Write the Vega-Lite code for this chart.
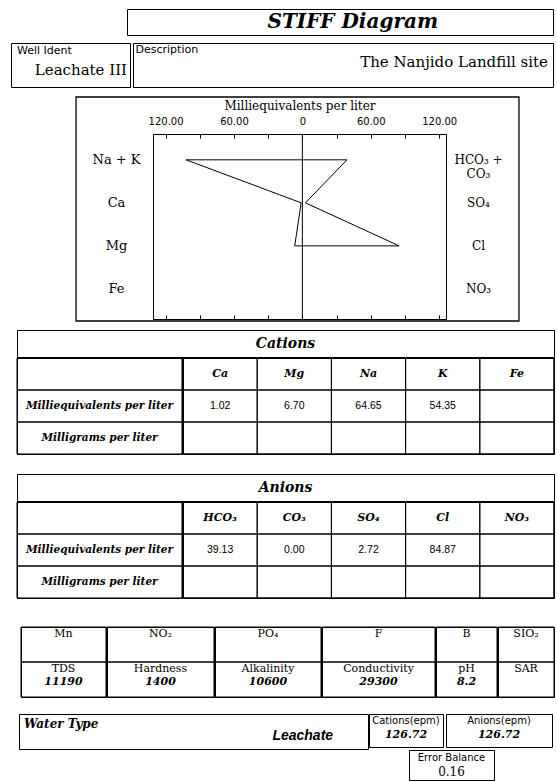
{
  "$schema": "https://vega.github.io/schema/vega-lite/v6.json",
  "background": "white",
  "padding": {"left": 10, "top": 8, "right": 0, "bottom": 0},
  "config": {
    "view": {"stroke": "black", "strokeWidth": 1},
    "text": {"color": "black"},
    "concat": {"spacing": 0},
    "axis": {"labelColor": "black", "tickColor": "black", "domainColor": "black", "titleColor": "black", "grid": false}
  },
  "datasets": {
    "sample": [{"wellIdent": "Leachate III", "description": "The Nanjido Landfill site", "waterType": "Leachate", "cationsEpm": 126.72, "anionsEpm": 126.72, "errorBalance": 0.16}],
    "stiff": [
      {"order": 1, "ion": "Na + K", "meq": -102, "row": 1},
      {"order": 2, "ion": "Ca", "meq": -1.02, "row": 2},
      {"order": 3, "ion": "Mg", "meq": -6.7, "row": 3},
      {"order": 4, "ion": "Cl", "meq": 84.87, "row": 3},
      {"order": 5, "ion": "SO₄", "meq": 2.72, "row": 2},
      {"order": 6, "ion": "HCO₃ + CO₃", "meq": 39.13, "row": 1},
      {"order": 7, "ion": "Na + K", "meq": -102, "row": 1}
    ],
    "cations": [
      {"ion": "Ca", "meq": 1.02},
      {"ion": "Mg", "meq": 6.70},
      {"ion": "Na", "meq": 64.65},
      {"ion": "K", "meq": 54.35},
      {"ion": "Fe", "meq": null}
    ],
    "anions": [
      {"ion": "HCO₃", "meq": 39.13},
      {"ion": "CO₃", "meq": 0.00},
      {"ion": "SO₄", "meq": 2.72},
      {"ion": "Cl", "meq": 84.87},
      {"ion": "NO₃", "meq": null}
    ],
    "tableRows": [
      {"row": "ion", "label": ""},
      {"row": "meq", "label": "Milliequivalents per liter"},
      {"row": "mg", "label": "Milligrams per liter"}
    ],
    "params": [
      {"col": "c1", "row": "top", "name": "Mn"},
      {"col": "c1", "row": "bottom", "name": "TDS", "value": 11190},
      {"col": "c2", "row": "top", "name": "NO₂"},
      {"col": "c2", "row": "bottom", "name": "Hardness", "value": 1400},
      {"col": "c3", "row": "top", "name": "PO₄"},
      {"col": "c3", "row": "bottom", "name": "Alkalinity", "value": 10600},
      {"col": "c4", "row": "top", "name": "F"},
      {"col": "c4", "row": "bottom", "name": "Conductivity", "value": 29300},
      {"col": "c5", "row": "top", "name": "B"},
      {"col": "c5", "row": "bottom", "name": "pH", "value": 8.2},
      {"col": "c6", "row": "top", "name": "SIO₂"},
      {"col": "c6", "row": "bottom", "name": "SAR"}
    ]
  },
  "spacing": 0,
  "vconcat": [
    {
      "spacing": 0,
      "hconcat": [
        {"width": 115, "height": 1, "data": {"values": []}, "mark": "point", "view": {"stroke": null}},
        {
          "width": 426, "height": 26,
          "data": {"name": "sample"},
          "mark": {"type": "text", "font": "DejaVu Serif", "fontSize": 20, "fontStyle": "italic", "fontWeight": "bold", "baseline": "middle"},
          "encoding": {
            "x": {"datum": 0.53, "type": "quantitative", "scale": {"domain": [0, 1]}, "axis": null},
            "y": {"datum": 0.5, "type": "quantitative", "scale": {"domain": [0, 1]}, "axis": null},
            "text": {"value": "STIFF Diagram"}
          }
        }
      ]
    },
    {"width": 1, "height": 6, "data": {"values": []}, "mark": "point", "view": {"stroke": null}},
    {
      "spacing": 1,
      "hconcat": [
        {
          "width": 119, "height": 44,
          "data": {"name": "sample"},
          "layer": [
            {
              "mark": {"type": "text", "font": "DejaVu Sans", "fontSize": 11, "align": "left", "baseline": "top"},
              "encoding": {
                "x": {"datum": 0.05, "type": "quantitative", "scale": {"domain": [0, 1]}, "axis": null},
                "y": {"datum": 0.05, "type": "quantitative", "scale": {"domain": [0, 1], "reverse": true}, "axis": null},
                "text": {"value": "Well Ident"}
              }
            },
            {
              "mark": {"type": "text", "font": "DejaVu Serif", "fontSize": 15, "align": "right", "baseline": "middle"},
              "encoding": {
                "x": {"datum": 0.975, "type": "quantitative", "scale": {"domain": [0, 1]}, "axis": null},
                "y": {"datum": 0.61, "type": "quantitative", "scale": {"domain": [0, 1], "reverse": true}, "axis": null},
                "text": {"field": "wellIdent", "type": "nominal"}
              }
            }
          ]
        },
        {
          "width": 420, "height": 44,
          "data": {"name": "sample"},
          "layer": [
            {
              "mark": {"type": "text", "font": "DejaVu Sans", "fontSize": 11, "align": "left", "baseline": "top"},
              "encoding": {
                "x": {"datum": 0.006, "type": "quantitative", "scale": {"domain": [0, 1]}, "axis": null},
                "y": {"datum": 0.02, "type": "quantitative", "scale": {"domain": [0, 1], "reverse": true}, "axis": null},
                "text": {"value": "Description"}
              }
            },
            {
              "mark": {"type": "text", "font": "DejaVu Serif", "fontSize": 15, "align": "right", "baseline": "middle"},
              "encoding": {
                "x": {"datum": 0.988, "type": "quantitative", "scale": {"domain": [0, 1]}, "axis": null},
                "y": {"datum": 0.43, "type": "quantitative", "scale": {"domain": [0, 1], "reverse": true}, "axis": null},
                "text": {"field": "description", "type": "nominal"}
              }
            }
          ]
        }
      ]
    },
    {"width": 1, "height": 7, "data": {"values": []}, "mark": "point", "view": {"stroke": null}},
    {
      "spacing": 0,
      "hconcat": [
        {"width": 63, "height": 1, "data": {"values": []}, "mark": "point", "view": {"stroke": null}},
        {
          "width": 293, "height": 185,
          "resolve": {"axis": {"x": "independent", "y": "independent"}},
          "layer": [
            {
              "data": {"name": "stiff"},
              "mark": {"type": "line", "color": "black", "strokeWidth": 1},
              "encoding": {
                "x": {
                  "field": "meq", "type": "quantitative",
                  "scale": {"domain": [-131, 126], "nice": false, "zero": false},
                  "axis": {
                    "orient": "top", "values": [-120, -90, -60, -30, 0, 30, 60, 90, 120],
                    "labelExpr": "datum.value == 0 ? '0' : (abs(datum.value) % 60 == 0 ? format(abs(datum.value), '.2f') : '')",
                    "tickSize": -4, "domain": false, "labelFont": "DejaVu Sans", "labelFontSize": 10,
                    "labelPadding": 12, "labelOverlap": false, "labelFlush": false,
                    "title": "Milliequivalents per liter", "titleFont": "DejaVu Serif", "titleFontSize": 12,
                    "titleFontWeight": "normal", "titlePadding": 4
                  }
                },
                "y": {
                  "field": "row", "type": "quantitative",
                  "scale": {"domain": [0.4, 4.7], "nice": false, "zero": false, "reverse": true},
                  "axis": {
                    "orient": "left", "values": [1, 2, 3, 4],
                    "labelExpr": "['Na + K', 'Ca', 'Mg', 'Fe'][datum.value - 1]",
                    "ticks": false, "domain": false, "labelAlign": "center", "labelBaseline": "middle",
                    "labelPadding": 37, "labelFont": "DejaVu Serif", "labelFontSize": 13,
                    "labelOverlap": false, "labelFlush": false, "title": null
                  }
                },
                "order": {"field": "order", "type": "quantitative"}
              }
            },
            {
              "data": {"values": [{"line": "zero"}]},
              "mark": {"type": "rule", "color": "black", "strokeWidth": 1},
              "encoding": {
                "x": {
                  "datum": 0, "type": "quantitative",
                  "scale": {"domain": [-131, 126], "nice": false, "zero": false},
                  "axis": {"orient": "bottom", "values": [-120, -90, -60, -30, 0, 30, 60, 90, 120], "labels": false, "tickSize": -4, "domain": false, "title": null}
                },
                "y": {
                  "datum": 0.4, "type": "quantitative",
                  "scale": {"domain": [0.4, 4.7], "nice": false, "zero": false, "reverse": true},
                  "axis": {
                    "orient": "right", "values": [1, 2, 3, 4],
                    "labelExpr": "datum.value == 1 ? ['HCO₃ +', 'CO₃'] : ['', 'SO₄', 'Cl', 'NO₃'][datum.value - 1]",
                    "ticks": false, "domain": false, "labelAlign": "center", "labelBaseline": "middle",
                    "labelPadding": 32, "labelFont": "DejaVu Serif", "labelFontSize": 12,
                    "labelOverlap": false, "labelFlush": false, "title": null
                  }
                },
                "y2": {"datum": 4.7}
              }
            },
            {
              "data": {"values": [{"frame": "outer"}]},
              "mark": {"type": "rect", "filled": false, "stroke": "black", "strokeWidth": 1.3, "clip": false},
              "encoding": {
                "x": {"datum": -198.5, "type": "quantitative", "scale": {"domain": [-131, 126], "nice": false, "zero": false}, "axis": null},
                "x2": {"datum": 190},
                "y": {"datum": -0.46, "type": "quantitative", "scale": {"domain": [0.4, 4.7], "nice": false, "zero": false, "reverse": true}, "axis": null},
                "y2": {"datum": 4.747}
              }
            }
          ]
        }
      ]
    },
    {"width": 1, "height": 6, "data": {"values": []}, "mark": "point", "view": {"stroke": null}},
    {
      "spacing": 0,
      "hconcat": [
        {"width": 5, "height": 1, "data": {"values": []}, "mark": "point", "view": {"stroke": null}},
        {
          "spacing": -3,
          "vconcat": [
            {
              "width": 537, "height": 27,
              "data": {"values": [{"section": "Cations"}]},
              "mark": {"type": "text", "font": "DejaVu Serif", "fontSize": 14, "fontStyle": "italic", "fontWeight": "bold", "baseline": "middle"},
              "encoding": {
                "y": {"datum": 0.5, "type": "quantitative", "scale": {"domain": [0, 1]}, "axis": null},
                "text": {"field": "section", "type": "nominal"}
              }
            },
            {
              "spacing": -3,
              "hconcat": [
                {
                  "width": 165, "height": 96,
                  "data": {"name": "tableRows"},
                  "encoding": {"y": {"field": "row", "type": "nominal", "scale": {"domain": ["ion", "meq", "mg"], "paddingInner": 0, "paddingOuter": 0}, "axis": null}},
                  "layer": [
                    {"mark": {"type": "rect", "filled": false, "stroke": "black", "strokeWidth": 1}},
                    {"mark": {"type": "text", "font": "DejaVu Serif", "fontSize": 10.5, "fontStyle": "italic", "fontWeight": "bold"}, "encoding": {"text": {"field": "label", "type": "nominal"}}}
                  ]
                },
                {
                  "width": 371, "height": 96,
                  "layer": [
                    {
                      "data": {"name": "cations"},
                      "mark": {"type": "rect", "filled": false, "stroke": "black", "strokeWidth": 1},
                      "encoding": {"x": {"field": "ion", "type": "nominal", "scale": {"domain": ["Ca", "Mg", "Na", "K", "Fe"], "paddingInner": 0, "paddingOuter": 0}, "axis": null}}
                    },
                    {
                      "data": {"name": "tableRows"},
                      "mark": {"type": "rect", "filled": false, "stroke": "black", "strokeWidth": 1},
                      "encoding": {"y": {"field": "row", "type": "nominal", "scale": {"domain": ["ion", "meq", "mg"], "paddingInner": 0, "paddingOuter": 0}, "axis": null}}
                    },
                    {
                      "data": {"name": "cations"},
                      "mark": {"type": "text", "font": "DejaVu Serif", "fontSize": 11, "fontStyle": "italic", "fontWeight": "bold"},
                      "encoding": {
                        "x": {"field": "ion", "type": "nominal", "axis": null},
                        "y": {"datum": "ion", "type": "nominal", "bandPosition": 0.5, "axis": null},
                        "text": {"field": "ion", "type": "nominal"}
                      }
                    },
                    {
                      "data": {"name": "cations"},
                      "transform": [{"filter": "isValid(datum.meq)"}],
                      "mark": {"type": "text", "font": "Liberation Sans", "fontSize": 10.5},
                      "encoding": {
                        "x": {"field": "ion", "type": "nominal", "axis": null},
                        "y": {"datum": "meq", "type": "nominal", "bandPosition": 0.5, "axis": null},
                        "text": {"field": "meq", "type": "quantitative", "format": ".2f"}
                      }
                    }
                  ]
                }
              ]
            }
          ]
        }
      ]
    },
    {"width": 1, "height": 18, "data": {"values": []}, "mark": "point", "view": {"stroke": null}},
    {
      "spacing": 0,
      "hconcat": [
        {"width": 5, "height": 1, "data": {"values": []}, "mark": "point", "view": {"stroke": null}},
        {
          "spacing": -3,
          "vconcat": [
            {
              "width": 537, "height": 27,
              "data": {"values": [{"section": "Anions"}]},
              "mark": {"type": "text", "font": "DejaVu Serif", "fontSize": 14, "fontStyle": "italic", "fontWeight": "bold", "baseline": "middle"},
              "encoding": {
                "y": {"datum": 0.5, "type": "quantitative", "scale": {"domain": [0, 1]}, "axis": null},
                "text": {"field": "section", "type": "nominal"}
              }
            },
            {
              "spacing": -3,
              "hconcat": [
                {
                  "width": 165, "height": 96,
                  "data": {"name": "tableRows"},
                  "encoding": {"y": {"field": "row", "type": "nominal", "scale": {"domain": ["ion", "meq", "mg"], "paddingInner": 0, "paddingOuter": 0}, "axis": null}},
                  "layer": [
                    {"mark": {"type": "rect", "filled": false, "stroke": "black", "strokeWidth": 1}},
                    {"mark": {"type": "text", "font": "DejaVu Serif", "fontSize": 10.5, "fontStyle": "italic", "fontWeight": "bold"}, "encoding": {"text": {"field": "label", "type": "nominal"}}}
                  ]
                },
                {
                  "width": 371, "height": 96,
                  "layer": [
                    {
                      "data": {"name": "anions"},
                      "mark": {"type": "rect", "filled": false, "stroke": "black", "strokeWidth": 1},
                      "encoding": {"x": {"field": "ion", "type": "nominal", "scale": {"domain": ["HCO₃", "CO₃", "SO₄", "Cl", "NO₃"], "paddingInner": 0, "paddingOuter": 0}, "axis": null}}
                    },
                    {
                      "data": {"name": "tableRows"},
                      "mark": {"type": "rect", "filled": false, "stroke": "black", "strokeWidth": 1},
                      "encoding": {"y": {"field": "row", "type": "nominal", "scale": {"domain": ["ion", "meq", "mg"], "paddingInner": 0, "paddingOuter": 0}, "axis": null}}
                    },
                    {
                      "data": {"name": "anions"},
                      "mark": {"type": "text", "font": "DejaVu Serif", "fontSize": 11, "fontStyle": "italic", "fontWeight": "bold"},
                      "encoding": {
                        "x": {"field": "ion", "type": "nominal", "axis": null},
                        "y": {"datum": "ion", "type": "nominal", "bandPosition": 0.5, "axis": null},
                        "text": {"field": "ion", "type": "nominal"}
                      }
                    },
                    {
                      "data": {"name": "anions"},
                      "transform": [{"filter": "isValid(datum.meq)"}],
                      "mark": {"type": "text", "font": "Liberation Sans", "fontSize": 10.5},
                      "encoding": {
                        "x": {"field": "ion", "type": "nominal", "axis": null},
                        "y": {"datum": "meq", "type": "nominal", "bandPosition": 0.5, "axis": null},
                        "text": {"field": "meq", "type": "quantitative", "format": ".2f"}
                      }
                    }
                  ]
                }
              ]
            }
          ]
        }
      ]
    },
    {"width": 1, "height": 27, "data": {"values": []}, "mark": "point", "view": {"stroke": null}},
    {
      "spacing": 0,
      "hconcat": [
        {"width": 9, "height": 1, "data": {"values": []}, "mark": "point", "view": {"stroke": null}},
        {
          "spacing": -3,
          "hconcat": [
            {
              "width": 85, "height": 70, "data": {"name": "params"},
              "transform": [{"filter": "datum.col == 'c1'"}],
              "layer": [
                {"mark": {"type": "rect", "filled": false, "stroke": "black"}, "encoding": {"y": {"field": "row", "type": "nominal", "scale": {"domain": ["top", "bottom"], "paddingInner": 0, "paddingOuter": 0}, "axis": null}}},
                {"mark": {"type": "text", "font": "DejaVu Serif", "fontSize": 11}, "encoding": {"y": {"field": "row", "type": "nominal", "bandPosition": 0.2, "axis": null}, "text": {"field": "name", "type": "nominal"}}},
                {"transform": [{"filter": "isValid(datum.value)"}], "mark": {"type": "text", "font": "DejaVu Serif", "fontSize": 11, "fontStyle": "italic", "fontWeight": "bold"}, "encoding": {"y": {"field": "row", "type": "nominal", "bandPosition": 0.58, "axis": null}, "text": {"field": "value", "type": "nominal"}}}
              ]
            },
            {
              "width": 107, "height": 70, "data": {"name": "params"},
              "transform": [{"filter": "datum.col == 'c2'"}],
              "layer": [
                {"mark": {"type": "rect", "filled": false, "stroke": "black"}, "encoding": {"y": {"field": "row", "type": "nominal", "scale": {"domain": ["top", "bottom"], "paddingInner": 0, "paddingOuter": 0}, "axis": null}}},
                {"mark": {"type": "text", "font": "DejaVu Serif", "fontSize": 11}, "encoding": {"y": {"field": "row", "type": "nominal", "bandPosition": 0.2, "axis": null}, "text": {"field": "name", "type": "nominal"}}},
                {"transform": [{"filter": "isValid(datum.value)"}], "mark": {"type": "text", "font": "DejaVu Serif", "fontSize": 11, "fontStyle": "italic", "fontWeight": "bold"}, "encoding": {"y": {"field": "row", "type": "nominal", "bandPosition": 0.58, "axis": null}, "text": {"field": "value", "type": "nominal"}}}
              ]
            },
            {
              "width": 106, "height": 70, "data": {"name": "params"},
              "transform": [{"filter": "datum.col == 'c3'"}],
              "layer": [
                {"mark": {"type": "rect", "filled": false, "stroke": "black"}, "encoding": {"y": {"field": "row", "type": "nominal", "scale": {"domain": ["top", "bottom"], "paddingInner": 0, "paddingOuter": 0}, "axis": null}}},
                {"mark": {"type": "text", "font": "DejaVu Serif", "fontSize": 11}, "encoding": {"y": {"field": "row", "type": "nominal", "bandPosition": 0.2, "axis": null}, "text": {"field": "name", "type": "nominal"}}},
                {"transform": [{"filter": "isValid(datum.value)"}], "mark": {"type": "text", "font": "DejaVu Serif", "fontSize": 11, "fontStyle": "italic", "fontWeight": "bold"}, "encoding": {"y": {"field": "row", "type": "nominal", "bandPosition": 0.58, "axis": null}, "text": {"field": "value", "type": "nominal"}}}
              ]
            },
            {
              "width": 113, "height": 70, "data": {"name": "params"},
              "transform": [{"filter": "datum.col == 'c4'"}],
              "layer": [
                {"mark": {"type": "rect", "filled": false, "stroke": "black"}, "encoding": {"y": {"field": "row", "type": "nominal", "scale": {"domain": ["top", "bottom"], "paddingInner": 0, "paddingOuter": 0}, "axis": null}}},
                {"mark": {"type": "text", "font": "DejaVu Serif", "fontSize": 11}, "encoding": {"y": {"field": "row", "type": "nominal", "bandPosition": 0.2, "axis": null}, "text": {"field": "name", "type": "nominal"}}},
                {"transform": [{"filter": "isValid(datum.value)"}], "mark": {"type": "text", "font": "DejaVu Serif", "fontSize": 11, "fontStyle": "italic", "fontWeight": "bold"}, "encoding": {"y": {"field": "row", "type": "nominal", "bandPosition": 0.58, "axis": null}, "text": {"field": "value", "type": "nominal"}}}
              ]
            },
            {
              "width": 61, "height": 70, "data": {"name": "params"},
              "transform": [{"filter": "datum.col == 'c5'"}],
              "layer": [
                {"mark": {"type": "rect", "filled": false, "stroke": "black"}, "encoding": {"y": {"field": "row", "type": "nominal", "scale": {"domain": ["top", "bottom"], "paddingInner": 0, "paddingOuter": 0}, "axis": null}}},
                {"mark": {"type": "text", "font": "DejaVu Serif", "fontSize": 11}, "encoding": {"y": {"field": "row", "type": "nominal", "bandPosition": 0.2, "axis": null}, "text": {"field": "name", "type": "nominal"}}},
                {"transform": [{"filter": "isValid(datum.value)"}], "mark": {"type": "text", "font": "DejaVu Serif", "fontSize": 11, "fontStyle": "italic", "fontWeight": "bold"}, "encoding": {"y": {"field": "row", "type": "nominal", "bandPosition": 0.58, "axis": null}, "text": {"field": "value", "type": "nominal"}}}
              ]
            },
            {
              "width": 56, "height": 70, "data": {"name": "params"},
              "transform": [{"filter": "datum.col == 'c6'"}],
              "layer": [
                {"mark": {"type": "rect", "filled": false, "stroke": "black"}, "encoding": {"y": {"field": "row", "type": "nominal", "scale": {"domain": ["top", "bottom"], "paddingInner": 0, "paddingOuter": 0}, "axis": null}}},
                {"mark": {"type": "text", "font": "DejaVu Serif", "fontSize": 11}, "encoding": {"y": {"field": "row", "type": "nominal", "bandPosition": 0.2, "axis": null}, "text": {"field": "name", "type": "nominal"}}},
                {"transform": [{"filter": "isValid(datum.value)"}], "mark": {"type": "text", "font": "DejaVu Serif", "fontSize": 11, "fontStyle": "italic", "fontWeight": "bold"}, "encoding": {"y": {"field": "row", "type": "nominal", "bandPosition": 0.58, "axis": null}, "text": {"field": "value", "type": "nominal"}}}
              ]
            }
          ]
        }
      ]
    },
    {"width": 1, "height": 15, "data": {"values": []}, "mark": "point", "view": {"stroke": null}},
    {
      "spacing": -1,
      "hconcat": [
        {"width": 8, "height": 1, "data": {"values": []}, "mark": "point", "view": {"stroke": null}},
        {
          "width": 349, "height": 35,
          "data": {"name": "sample"},
          "layer": [
            {
              "mark": {"type": "text", "font": "DejaVu Serif", "fontSize": 12, "fontStyle": "italic", "fontWeight": "bold", "align": "left", "baseline": "middle"},
              "encoding": {
                "x": {"datum": 0.014, "type": "quantitative", "scale": {"domain": [0, 1]}, "axis": null},
                "y": {"datum": 0.29, "type": "quantitative", "scale": {"domain": [0, 1], "reverse": true}, "axis": null},
                "text": {"value": "Water Type"}
              }
            },
            {
              "mark": {"type": "text", "font": "Liberation Sans", "fontSize": 14, "fontStyle": "italic", "fontWeight": "bold", "align": "right", "baseline": "middle"},
              "encoding": {
                "x": {"datum": 0.9, "type": "quantitative", "scale": {"domain": [0, 1]}, "axis": null},
                "y": {"datum": 0.63, "type": "quantitative", "scale": {"domain": [0, 1], "reverse": true}, "axis": null},
                "text": {"field": "waterType", "type": "nominal"}
              }
            }
          ]
        },
        {
          "spacing": 1,
          "vconcat": [
            {
              "spacing": 1,
              "hconcat": [
                {
                  "width": 74, "height": 33,
                  "data": {"name": "sample"},
                  "layer": [
                    {
                      "mark": {"type": "text", "font": "DejaVu Sans", "fontSize": 10, "baseline": "middle"},
                      "encoding": {"y": {"datum": 0.22, "type": "quantitative", "scale": {"domain": [0, 1], "reverse": true}, "axis": null}, "text": {"value": "Cations(epm)"}}
                    },
                    {
                      "mark": {"type": "text", "font": "DejaVu Serif", "fontSize": 11, "fontStyle": "italic", "fontWeight": "bold", "baseline": "middle"},
                      "encoding": {"y": {"datum": 0.64, "type": "quantitative", "scale": {"domain": [0, 1], "reverse": true}, "axis": null}, "text": {"field": "cationsEpm", "type": "quantitative", "format": ".2f"}}
                    }
                  ]
                },
                {
                  "width": 106, "height": 33,
                  "data": {"name": "sample"},
                  "layer": [
                    {
                      "mark": {"type": "text", "font": "DejaVu Sans", "fontSize": 10, "baseline": "middle"},
                      "encoding": {"y": {"datum": 0.22, "type": "quantitative", "scale": {"domain": [0, 1], "reverse": true}, "axis": null}, "text": {"value": "Anions(epm)"}}
                    },
                    {
                      "mark": {"type": "text", "font": "DejaVu Serif", "fontSize": 11, "fontStyle": "italic", "fontWeight": "bold", "baseline": "middle"},
                      "encoding": {"y": {"datum": 0.64, "type": "quantitative", "scale": {"domain": [0, 1], "reverse": true}, "axis": null}, "text": {"field": "anionsEpm", "type": "quantitative", "format": ".2f"}}
                    }
                  ]
                }
              ]
            },
            {
              "spacing": 0,
              "hconcat": [
                {"width": 39, "height": 1, "data": {"values": []}, "mark": "point", "view": {"stroke": null}},
                {
                  "width": 85, "height": 30,
                  "data": {"name": "sample"},
                  "layer": [
                    {
                      "mark": {"type": "text", "font": "DejaVu Sans", "fontSize": 10, "baseline": "middle"},
                      "encoding": {"y": {"datum": 0.27, "type": "quantitative", "scale": {"domain": [0, 1], "reverse": true}, "axis": null}, "text": {"value": "Error Balance"}}
                    },
                    {
                      "mark": {"type": "text", "font": "DejaVu Serif", "fontSize": 12, "baseline": "middle"},
                      "encoding": {"y": {"datum": 0.72, "type": "quantitative", "scale": {"domain": [0, 1], "reverse": true}, "axis": null}, "text": {"field": "errorBalance", "type": "quantitative", "format": ".2f"}}
                    }
                  ]
                }
              ]
            }
          ]
        }
      ]
    }
  ]
}
